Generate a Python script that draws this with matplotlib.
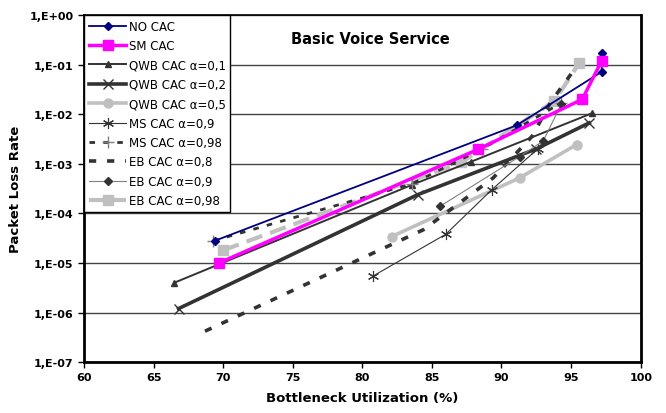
import math

import matplotlib
matplotlib.use("Agg")
import matplotlib.pyplot as plt
from matplotlib.ticker import FixedLocator, FuncFormatter

# packet loss vs bottleneck utilization, one series per CAC scheme
no_cac_x = [69.4, 91.1, 97.2, 97.2]
no_cac_y = [2.8e-5, 6.0e-3, 7.2e-2, 1.75e-1]
sm_x = [69.7, 88.3, 95.8, 97.2]
sm_y = [1.0e-5, 1.95e-3, 2.0e-2, 1.2e-1]
qwb01_x = [66.5, 83.6, 87.8, 96.5]
qwb01_y = [4.0e-6, 3.8e-4, 1.1e-3, 1.05e-2]
qwb02_x = [66.8, 84.0, 92.5, 96.3]
qwb02_y = [1.2e-6, 2.4e-4, 2.0e-3, 6.7e-3]
qwb05_x = [82.1, 91.3, 95.4]
qwb05_y = [3.4e-5, 5.2e-4, 2.45e-3]
ms09_x = [80.8, 86.0, 89.3, 92.6]
ms09_y = [5.5e-6, 3.8e-5, 3.0e-4, 2.0e-3]
ms098_x = [69.3, 83.6, 88.6, 94.3]
ms098_y = [2.8e-5, 4.0e-4, 2.0e-3, 1.7e-2]
eb08_x = [68.7, 84.4, 89.4, 92.2, 93.5, 95.0]
eb08_y = [4.2e-7, 4.7e-5, 5.2e-4, 3.6e-3, 1.7e-2, 6.5e-2]
eb09_x = [85.6, 91.3, 93.0, 94.3]
eb09_y = [1.4e-4, 1.4e-3, 2.9e-3, 1.6e-2]
eb098_x = [70.0, 87.1, 93.8, 95.6]
eb098_y = [1.8e-5, 1.07e-3, 1.84e-2, 1.1e-1]

x_ticks = [60, 65, 70, 75, 80, 85, 90, 95, 100]
y_ticks = [1e-7, 1e-6, 1e-5, 1e-4, 1e-3, 1e-2, 1e-1, 1e0]

NAVY = "#000080"
MAGENTA = "#ff00ff"
DARK = "#333333"
LIGHT = "#c0c0c0"
MID = "#808080"

fig = plt.figure(figsize=(6.66, 4.14), dpi=100)
ax = fig.add_axes([0.126, 0.123, 0.836, 0.838])

ax.plot(no_cac_x, no_cac_y, color=NAVY, lw=1.3, marker="D", ms=4,
        label="NO CAC", zorder=5)
ax.plot(sm_x, sm_y, color=MAGENTA, lw=2.5, marker="s", ms=7,
        label="SM CAC", zorder=6)
ax.plot(qwb01_x, qwb01_y, color=DARK, lw=1.4, marker="^", ms=5,
        label="QWB CAC α=0,1", zorder=4)
ax.plot(qwb02_x, qwb02_y, color=DARK, lw=2.6, marker="x", ms=7, mew=1,
        label="QWB CAC α=0,2", zorder=4)
ax.plot(qwb05_x, qwb05_y, color=LIGHT, lw=2.6, marker="o", ms=6.5,
        label="QWB CAC α=0,5", zorder=3)
ax.plot(ms09_x, ms09_y, color=DARK, lw=0.8, marker=(6, 2, 0), ms=8, mew=0.8,
        label="MS CAC α=0,9", zorder=4)
ax.plot(ms098_x, ms098_y, color=DARK, lw=2, ls=(0, (2, 3)), marker="+",
        ms=8, mec=MID, mew=1, label="MS CAC α=0,98", zorder=4)
ax.plot(eb08_x, eb08_y, color=DARK, lw=2.6, ls=(0, (2, 3)),
        label="EB CAC α=0,8", zorder=4)
ax.plot(eb09_x, eb09_y, color=MID, lw=0.8, marker="D", ms=4.5, mfc=DARK,
        mec=DARK, label="EB CAC α=0,9", zorder=4)
ax.plot(eb098_x, eb098_y, color=LIGHT, lw=3, ls=(0, (4, 2)), marker="s",
        ms=7, label="EB CAC α=0,98", zorder=3)

ax.set_yscale("log")
ax.set_xlim(60, 100)
ax.set_ylim(1e-7, 1)
ax.xaxis.set_major_locator(FixedLocator(x_ticks))
ax.yaxis.set_major_locator(FixedLocator(y_ticks))
ax.yaxis.set_minor_locator(FixedLocator([]))


def sci_comma(v, pos):
    exp = int(round(math.log10(v)))
    sign = "+" if exp >= 0 else "-"
    return f"1,E{sign}{abs(exp):02d}"


ax.yaxis.set_major_formatter(FuncFormatter(sci_comma))
ax.xaxis.set_major_formatter(FuncFormatter(lambda v, p: f"{int(v)}"))
ax.tick_params(axis="both", labelsize=8, length=4, width=1, direction="out")
for lab in ax.get_xticklabels() + ax.get_yticklabels():
    lab.set_fontweight("bold")

ax.grid(axis="y", color="#444444", lw=1)
ax.set_axisbelow(True)
for side in ("left", "bottom", "right"):
    ax.spines[side].set_linewidth(2)
ax.spines["top"].set_linewidth(1.2)

ax.set_xlabel("Bottleneck Utilization (%)", fontsize=9.5, fontweight="bold",
              labelpad=6)
ax.set_ylabel("Packet Loss Rate", fontsize=9.5, fontweight="bold", labelpad=5)
ax.text(0.515, 0.955, "Basic Voice Service", transform=ax.transAxes,
        ha="center", va="top", fontsize=10.5, fontweight="bold")

leg = ax.legend(loc="upper left", bbox_to_anchor=(0.0, 1.0), borderaxespad=0,
                fontsize=8.5, fancybox=False, edgecolor="black", framealpha=1,
                handlelength=3.2, handletextpad=0.2, labelspacing=0.54,
                borderpad=0.4)
leg.get_frame().set_linewidth(1)

fig.savefig("out.png", dpi=100)
